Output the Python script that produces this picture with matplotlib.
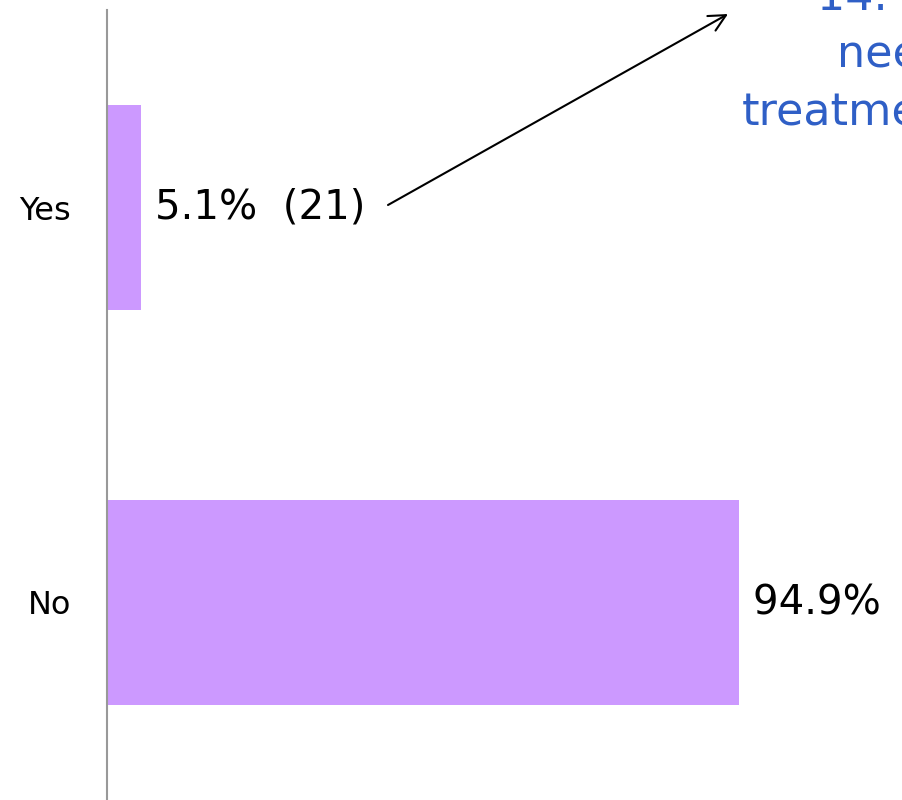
import matplotlib
matplotlib.use("Agg")
import matplotlib.pyplot as plt

categories = ["Yes", "No"]
percents = [5.1, 94.9]
counts = [21, 391]

bar_color = "#CC99FF"
title_color = "#2F5FC6"

fig = plt.figure(figsize=(9.03, 8.0), dpi=100)
ax = fig.add_axes([107 / 903, 0.0, 666 / 903, 790 / 800])

ypos = list(range(len(categories)))
ax.barh(ypos, percents, height=0.52, color=bar_color, zorder=2)

for y, pct, n in zip(ypos, percents, counts):
    ax.annotate(f"{pct:.1f}%  ({n})", xy=(pct, y), xytext=(10, 0),
                textcoords="offset points", ha="left", va="center",
                fontsize=29, color="#000000", annotation_clip=False)

ax.set_xlim(0, 100)
ax.set_ylim(1.5, -0.5)
ax.set_yticks(ypos)
ax.set_yticklabels(categories, fontsize=23)
ax.tick_params(axis="y", length=0, pad=26)
ax.set_xticks([])
for side in ["top", "right", "bottom"]:
    ax.spines[side].set_visible(False)
ax.spines["left"].set_color("#999999")
ax.spines["left"].set_linewidth(1.5)

# question text, cut off by the right edge in the reference
fig.text(817 / 903, 1 - 10 / 800, "14. I", fontsize=32, color=title_color,
         ha="left", va="baseline")
fig.text(837 / 903, 1 - 68 / 800, "nee", fontsize=32, color=title_color,
         ha="left", va="baseline")
fig.text(742 / 903, 1 - 125 / 800, "treatme", fontsize=32, color=title_color,
         ha="left", va="baseline")

ax.annotate("", xy=(728 / 903, 1 - 14 / 800), xycoords="figure fraction",
            xytext=(388 / 903, 1 - 205 / 800), textcoords="figure fraction",
            arrowprops=dict(arrowstyle="->", color="black", lw=1.5,
                            mutation_scale=30, shrinkA=0, shrinkB=0))

fig.savefig("out.png", dpi=100)
